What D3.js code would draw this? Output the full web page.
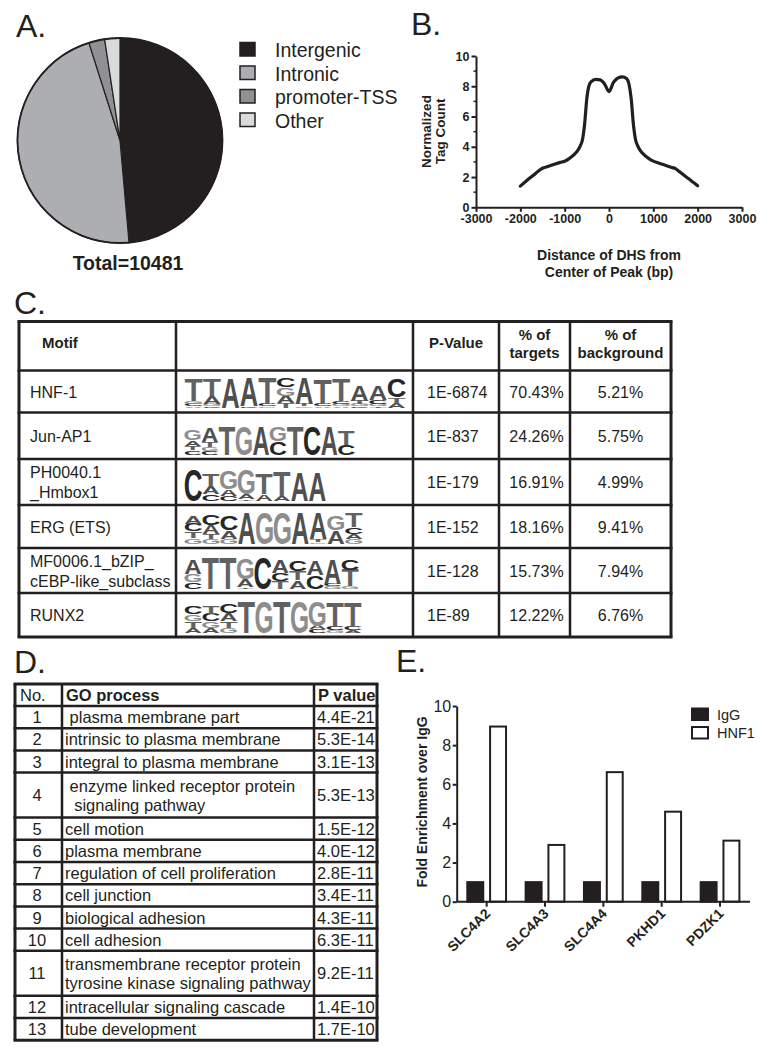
<!DOCTYPE html>
<html><head><meta charset="utf-8">
<script src="https://cdn.jsdelivr.net/npm/d3@7"></script>
<style>
body{margin:0;background:#fff;}
svg{display:block;font-family:"Liberation Sans",Arial,Helvetica,sans-serif;}
text{white-space:pre;}
</style></head><body>
<svg id="fig" width="761" height="1050"></svg>
<script>
// ---------- DATA ----------
// Panel A
const pieCategories = ["Intergenic", "Intronic", "promoter-TSS", "Other"];
const pieValues = [48.6, 46.5, 2.5, 2.4];
const pieColors = ["#231f20", "#adaeb1", "#909194", "#d9dadc"];
const pieTotal = "Total=10481";

// Panel B
const profileX = [-2000,-1900,-1800,-1700,-1600,-1500,-1400,-1300,-1200,-1100,-1000,-900,-800,-700,-650,-600,-550,-500,-450,-400,-300,-200,-100,0,100,200,300,400,450,500,550,600,650,700,800,900,1000,1100,1200,1300,1400,1500,1600,1700,1800,1900,2000];
const profileY = [1.40,1.65,1.90,2.13,2.38,2.58,2.68,2.78,2.88,2.97,3.05,3.22,3.45,3.78,4.05,4.45,5.50,7.20,8.05,8.30,8.45,8.42,8.15,7.65,8.25,8.55,8.62,8.50,8.15,7.20,5.50,4.45,4.05,3.78,3.45,3.22,3.05,2.95,2.85,2.75,2.65,2.55,2.33,2.10,1.88,1.65,1.42];
const profileXTicks = [-3000, -2000, -1000, 0, 1000, 2000, 3000];
const profileYTicks = [0, 2, 4, 6, 8, 10];
const profileYMinorTicks = [1, 3, 5, 7, 9];

// Panel C
const motifHeaders = [["Motif"], [""], ["P-Value"], ["% of", "targets"], ["% of", "background"]];
const motifNames = [["HNF-1"], ["Jun-AP1"], ["PH0040.1", "_Hmbox1"], ["ERG (ETS)"], ["MF0006.1_bZIP_", "cEBP-like_subclass"], ["RUNX2"]];
const motifPValues = ["1E-6874", "1E-837", "1E-179", "1E-152", "1E-128", "1E-89"];
const motifTargets = ["70.43%", "24.26%", "16.91%", "18.16%", "15.73%", "12.22%"];
const motifBackground = ["5.21%", "5.75%", "4.99%", "9.41%", "7.94%", "6.76%"];
// sequence logos: each position lists letters top-to-bottom with height in bits
const logoHNF1 = [
  [["T",1.4],["G",0.15],["C",0.15],["A",0.1]],
  [["T",1.0],["A",0.5],["G",0.15],["C",0.1]],
  [["A",1.85]],
  [["A",1.75],["C",0.1]],
  [["T",1.6],["C",0.15],["G",0.1]],
  [["C",0.55],["G",0.5],["A",0.45],["T",0.3]],
  [["A",1.6],["T",0.15],["G",0.1]],
  [["T",1.55],["C",0.15],["A",0.1]],
  [["T",1.4],["C",0.15],["G",0.15],["A",0.1]],
  [["A",0.95],["T",0.2],["G",0.15],["C",0.1]],
  [["A",0.85],["C",0.25],["G",0.15],["T",0.1]],
  [["C",1.1],["T",0.35],["A",0.3]]
];
const logoJunAP1 = [
  [["G",0.6],["A",0.35],["T",0.25],["C",0.25]],
  [["A",0.9],["T",0.3],["G",0.25],["C",0.2]],
  [["T",1.75]],
  [["G",1.8]],
  [["A",1.8]],
  [["G",0.9],["C",0.8]],
  [["T",1.8]],
  [["C",1.8]],
  [["A",1.8]],
  [["T",0.9],["C",0.6]]
];
const logoHmbox1 = [
  [["C",1.9]],
  [["T",0.75],["A",0.45],["C",0.4]],
  [["G",1.1],["A",0.4],["C",0.3]],
  [["G",1.5],["A",0.3],["T",0.1]],
  [["T",1.3],["A",0.4]],
  [["T",1.5],["A",0.3]],
  [["A",1.8]],
  [["A",1.8]]
];
const logoERG = [
  [["A",0.5],["C",0.45],["T",0.4],["G",0.35]],
  [["C",0.6],["A",0.55],["T",0.3],["G",0.3]],
  [["C",0.85],["A",0.5],["G",0.3]],
  [["A",1.9]],
  [["G",1.9]],
  [["G",1.9]],
  [["A",1.9]],
  [["A",1.6],["T",0.15],["G",0.1]],
  [["G",0.9],["A",0.8]],
  [["T",0.9],["C",0.4],["A",0.3],["G",0.3]]
];
const logoBZIP = [
  [["A",0.9],["G",0.5],["C",0.4]],
  [["T",1.9]],
  [["T",1.9]],
  [["G",1.3],["A",0.5],["T",0.1]],
  [["C",1.9]],
  [["A",0.8],["C",0.5],["T",0.45]],
  [["C",0.65],["T",0.55],["A",0.5]],
  [["A",0.9],["C",0.8]],
  [["A",1.5],["C",0.15],["G",0.15]],
  [["C",0.6],["T",1.0],["G",0.15]]
];
const logoRUNX2 = [
  [["C",0.5],["G",0.4],["T",0.4],["A",0.3]],
  [["T",0.5],["C",0.45],["G",0.4],["A",0.3]],
  [["C",0.55],["A",0.5],["T",0.4],["G",0.3]],
  [["T",1.9]],
  [["G",1.9]],
  [["T",1.9]],
  [["G",1.9]],
  [["G",1.5],["A",0.2],["C",0.2]],
  [["T",1.5],["C",0.2],["G",0.15]],
  [["T",1.5],["C",0.2],["A",0.15]]
];
const motifLogos = [logoHNF1, logoJunAP1, logoHmbox1, logoERG, logoBZIP, logoRUNX2];
const letterColors = {A: "#4f4f4f", C: "#262626", G: "#8d8d8d", T: "#616161"};

// Panel D
const goHeaders = ["No.", "GO process", "P value"];
const goNumbers = ["1","2","3","4","5","6","7","8","9","10","11","12","13"];
const goProcesses = [
  [" plasma membrane part"], ["intrinsic to plasma membrane"], ["integral to plasma membrane"],
  [" enzyme linked receptor protein", "  signaling pathway"], ["cell motion"], ["plasma membrane"],
  ["regulation of cell proliferation"], ["cell junction"], ["biological adhesion"], ["cell adhesion"],
  ["transmembrane receptor protein", "tyrosine kinase signaling pathway"],
  ["intracellular signaling cascade"], ["tube development"]
];
const goPValues = ["4.4E-21","5.3E-14","3.1E-13","5.3E-13","1.5E-12","4.0E-12","2.8E-11","3.4E-11","4.3E-11","6.3E-11","9.2E-11","1.4E-10","1.7E-10"];

// Panel E
const chipGenes = ["SLC4A2", "SLC4A3", "SLC4A4", "PKHD1", "PDZK1"];
const chipSeries = ["IgG", "HNF1"];
const chipIgG = [1, 1, 1, 1, 1];
const chipHNF1 = [8.95, 2.9, 6.62, 4.6, 3.12];
const chipYTicks = [0, 2, 4, 6, 8, 10];
const chipColors = ["#231f20", "#ffffff"];

// ---------- DRAWING ----------
const svg = d3.select("#fig");
const INK = "#231f20";

function label(x, y, t) {
  svg.append("text").attr("x", x).attr("y", y).attr("font-size", 32).attr("fill", INK).text(t);
}
label(16, 37, "A.");
label(411, 35, "B.");
label(14, 314, "C.");
label(14, 673, "D.");
label(396, 672, "E.");

// ===== Panel A =====
const gA = svg.append("g").attr("transform", "translate(120,140.5)");
const pieArcs = d3.pie().sort(null).value(d => d)(pieValues);
const arcA = d3.arc().innerRadius(0).outerRadius(102.5);
gA.selectAll("path").data(pieArcs).join("path")
  .attr("d", arcA).attr("fill", (d, i) => pieColors[i])
  .attr("stroke", INK).attr("stroke-width", 1.2).attr("stroke-linejoin", "round");
gA.append("circle").attr("r", 102.5).attr("fill", "none").attr("stroke", INK).attr("stroke-width", 1.8);
svg.append("text").attr("x", 128).attr("y", 270).attr("text-anchor", "middle")
  .attr("font-size", 19.5).attr("font-weight", "bold").attr("fill", INK).text(pieTotal);
const legA = svg.append("g");
pieCategories.forEach((c, i) => {
  legA.append("rect").attr("x", 240).attr("y", 42.5 + i * 23.5).attr("width", 15).attr("height", 13.5)
    .attr("fill", pieColors[i]).attr("stroke", INK).attr("stroke-width", 1.5);
  legA.append("text").attr("x", 275).attr("y", 57 + i * 23.5).attr("font-size", 19.5).attr("fill", INK).text(c);
});

// ===== Panel B =====
const xB = d3.scaleLinear().domain([-3000, 3000]).range([476, 742]);
const yB = d3.scaleLinear().domain([0, 10]).range([207.3, 56]);
const gBx = svg.append("g").attr("transform", "translate(0,207.3)")
  .call(d3.axisBottom(xB).tickValues(profileXTicks).tickFormat(d => String(d)).tickSize(4.5).tickSizeOuter(0).tickPadding(2.5));
const gBy = svg.append("g").attr("transform", "translate(476,0)")
  .call(d3.axisLeft(yB).tickValues(profileYTicks).tickFormat(d => String(d)).tickSize(4.5).tickSizeOuter(0).tickPadding(2));
[gBx, gBy].forEach(g => {
  g.selectAll("path,line").attr("stroke", INK).attr("stroke-width", 2);
  g.selectAll("text").attr("font-size", 12.5).attr("font-weight", "bold").attr("fill", INK)
    .attr("font-family", '"Liberation Sans",Arial,sans-serif');
});
gBy.selectAll(".minor").data(profileYMinorTicks).join("line").attr("class", "minor")
  .attr("x1", 0).attr("x2", -2.5).attr("y1", d => yB(d)).attr("y2", d => yB(d))
  .attr("stroke", INK).attr("stroke-width", 1.5);
svg.append("path").datum(profileX.map((x, i) => [x, profileY[i]]))
  .attr("d", d3.line().x(d => xB(d[0])).y(d => yB(d[1])).curve(d3.curveMonotoneX))
  .attr("fill", "none").attr("stroke", INK).attr("stroke-width", 3.2).attr("stroke-linecap", "round");
const tB = svg.append("g").attr("font-weight", "bold").attr("fill", INK).attr("text-anchor", "middle");
tB.append("text").attr("transform", "translate(431,131.5) rotate(-90)").attr("font-size", 13.5).text("Normalized");
tB.append("text").attr("transform", "translate(444.5,131.5) rotate(-90)").attr("font-size", 13.5).text("Tag Count");
tB.append("text").attr("x", 609).attr("y", 260).attr("font-size", 14).text("Distance of DHS from");
tB.append("text").attr("x", 609).attr("y", 277).attr("font-size", 14).text("Center of Peak (bp)");

// ===== Panel C =====
const colsC = [19, 176, 413, 499, 570, 671];
const rowsC = [321.5, 370.5, 412.5, 459, 505, 548, 593, 637];
const gC = svg.append("g");
rowsC.forEach((y, i) => gC.append("line").attr("x1", colsC[0] - 1.5).attr("x2", colsC[5] + 1.5)
  .attr("y1", y).attr("y2", y).attr("stroke", INK).attr("stroke-width", (i === 0 || i === rowsC.length - 1) ? 3 : 2.5));
colsC.forEach((x, i) => gC.append("line").attr("x1", x).attr("x2", x)
  .attr("y1", rowsC[0]).attr("y2", rowsC[rowsC.length - 1]).attr("stroke", INK)
  .attr("stroke-width", (i === 0 || i === colsC.length - 1) ? 3 : 2.5));
// headers
const hC = gC.append("g").attr("font-weight", "bold").attr("font-size", 15).attr("fill", INK);
hC.append("text").attr("x", 42).attr("y", 348).text(motifHeaders[0][0]);
hC.append("text").attr("x", (colsC[2] + colsC[3]) / 2).attr("y", 348).attr("text-anchor", "middle").text(motifHeaders[2][0]);
[3, 4].forEach(k => {
  motifHeaders[k].forEach((t, j) => hC.append("text").attr("x", (colsC[k] + colsC[k + 1]) / 2)
    .attr("y", 340 + j * 18).attr("text-anchor", "middle").text(t));
});
// body
const logoStep = [18.5, 17.1, 17.8, 17.9, 17.5, 17.8];
const visW = {A: 0.70, C: 0.66, G: 0.70, T: 0.60};
const bitPx = 16.5;
motifNames.forEach((nm, r) => {
  const top = rowsC[r + 1], bot = rowsC[r + 2], mid = (top + bot) / 2;
  const n = nm.length;
  nm.forEach((t, j) => gC.append("text").attr("x", 30).attr("y", mid + 6 + (j - (n - 1) / 2) * 20)
    .attr("font-size", 16).attr("fill", INK).text(t));
  gC.append("text").attr("x", colsC[2] + 14).attr("y", mid + 6).attr("font-size", 16).attr("fill", INK).text(motifPValues[r]);
  gC.append("text").attr("x", (colsC[3] + colsC[4]) / 2 + 2).attr("y", mid + 6).attr("text-anchor", "middle")
    .attr("font-size", 16).attr("fill", INK).text(motifTargets[r]);
  gC.append("text").attr("x", (colsC[4] + colsC[5]) / 2).attr("y", mid + 6).attr("text-anchor", "middle")
    .attr("font-size", 16).attr("fill", INK).text(motifBackground[r]);
  // logo
  const step = logoStep[r];
  const xL = d3.scaleBand().domain(d3.range(motifLogos[r].length))
    .range([184, 184 + step * motifLogos[r].length]).padding(0.03);
  const yL = d3.scaleLinear().domain([0, 2]).range([0, bitPx * 2]);
  const base = bot - 4.5;
  motifLogos[r].forEach((stack, p) => {
    let y = base;
    const cx = xL(p) + xL.bandwidth() / 2;
    stack.slice().reverse().forEach(([L, h]) => {
      const hp = yL(h);
      const sx = xL.bandwidth() / (visW[L] * 100);
      const sy = hp / 71.6;
      gC.append("text").attr("transform", `translate(${cx},${y}) scale(${sx},${sy})`)
        .attr("text-anchor", "middle").attr("font-size", 100).attr("font-weight", "bold")
        .attr("fill", letterColors[L]).text(L);
      y -= hp;
    });
  });
});

// ===== Panel D =====
const colsD = [15, 62, 314, 377];
const rowH = [22].concat(goProcesses.map(p => p.length > 1 ? 45 : 22.2));
const rowsD = [684];
rowH.forEach(h => rowsD.push(rowsD[rowsD.length - 1] + h));
const gD = svg.append("g");
rowsD.forEach((y, i) => gD.append("line").attr("x1", colsD[0] - 1.5).attr("x2", colsD[3] + 1.5)
  .attr("y1", y).attr("y2", y).attr("stroke", INK).attr("stroke-width", (i === 0 || i === rowsD.length - 1) ? 3 : 2.5));
colsD.forEach((x, i) => gD.append("line").attr("x1", x).attr("x2", x)
  .attr("y1", rowsD[0]).attr("y2", rowsD[rowsD.length - 1]).attr("stroke", INK)
  .attr("stroke-width", (i === 0 || i === colsD.length - 1) ? 3 : 2.5));
const hMid = (rowsD[0] + rowsD[1]) / 2 + 6;
gD.append("text").attr("x", 20).attr("y", hMid).attr("font-size", 16.5).attr("fill", INK).text(goHeaders[0]);
gD.append("text").attr("x", 66).attr("y", hMid).attr("font-size", 16.5).attr("font-weight", "bold").attr("fill", INK).text(goHeaders[1]);
gD.append("text").attr("x", 318).attr("y", hMid).attr("font-size", 16.5).attr("font-weight", "bold").attr("fill", INK).text(goHeaders[2]);
goProcesses.forEach((lines, r) => {
  const top = rowsD[r + 1], bot = rowsD[r + 2], mid = (top + bot) / 2;
  gD.append("text").attr("x", 37).attr("y", mid + 6).attr("text-anchor", "middle").attr("font-size", 16.5).attr("fill", INK).text(goNumbers[r]);
  const n = lines.length;
  lines.forEach((t, j) => gD.append("text").attr("x", 65).attr("y", mid + 6 + (j - (n - 1) / 2) * 19)
    .attr("font-size", 16.5).attr("fill", INK).text(t));
  gD.append("text").attr("x", 317).attr("y", mid + 6).attr("font-size", 16.5).attr("fill", INK).text(goPValues[r]);
});

// ===== Panel E =====
const xE = d3.scaleBand().domain(chipGenes).range([457.5, 749.2]).paddingInner(0).paddingOuter(0);
const xE1 = d3.scaleBand().domain(chipSeries).range([0, xE.bandwidth()]).paddingInner(0.3).paddingOuter(0.43);
const yE = d3.scaleLinear().domain([0, 10]).range([901.7, 706]);
const gE = svg.append("g");
const barsData = [];
chipGenes.forEach((g, i) => {
  barsData.push({g, s: "IgG", v: chipIgG[i]});
  barsData.push({g, s: "HNF1", v: chipHNF1[i]});
});
gE.selectAll("rect.bar").data(barsData).join("rect").attr("class", "bar")
  .attr("x", d => xE(d.g) + xE1(d.s)).attr("width", xE1.bandwidth())
  .attr("y", d => yE(d.v)).attr("height", d => yE(0) - yE(d.v))
  .attr("fill", d => chipColors[chipSeries.indexOf(d.s)]).attr("stroke", INK).attr("stroke-width", 2);
const gEx = svg.append("g").attr("transform", "translate(0,901.7)")
  .call(d3.axisBottom(xE).tickSize(5).tickSizeOuter(0).tickFormat(""));
gEx.select(".domain").attr("d", "M456.7,0H750");
const gEy = svg.append("g").attr("transform", "translate(456.7,0)")
  .call(d3.axisLeft(yE).tickValues(chipYTicks).tickSize(4).tickSizeOuter(0).tickPadding(1.5));
[gEx, gEy].forEach(g => {
  g.selectAll("path,line").attr("stroke", INK).attr("stroke-width", 2);
  g.selectAll("text").attr("font-size", 16).attr("fill", INK).attr("font-family", '"Liberation Sans",Arial,sans-serif');
});
chipGenes.forEach(g => {
  const x = xE(g) + xE.bandwidth() / 2;
  svg.append("text").attr("transform", `translate(${x + 1},${911}) rotate(-45)`)
    .attr("text-anchor", "end").attr("dy", "0.35em").attr("font-size", 14).attr("font-weight", "bold")
    .attr("fill", INK).text(g);
});
svg.append("text").attr("transform", "translate(427,802) rotate(-90)").attr("text-anchor", "middle")
  .attr("font-size", 14).attr("font-weight", "bold").attr("fill", INK).text("Fold Enrichment over IgG");
chipSeries.forEach((s, i) => {
  svg.append("rect").attr("x", 692).attr("y", 708.5 + i * 18.5).attr("width", 16).attr("height", 11.5)
    .attr("fill", chipColors[i]).attr("stroke", INK).attr("stroke-width", 2);
  svg.append("text").attr("x", 717).attr("y", 720 + i * 18).attr("font-size", 14.5).attr("fill", INK).text(s);
});
</script>
</body></html>
